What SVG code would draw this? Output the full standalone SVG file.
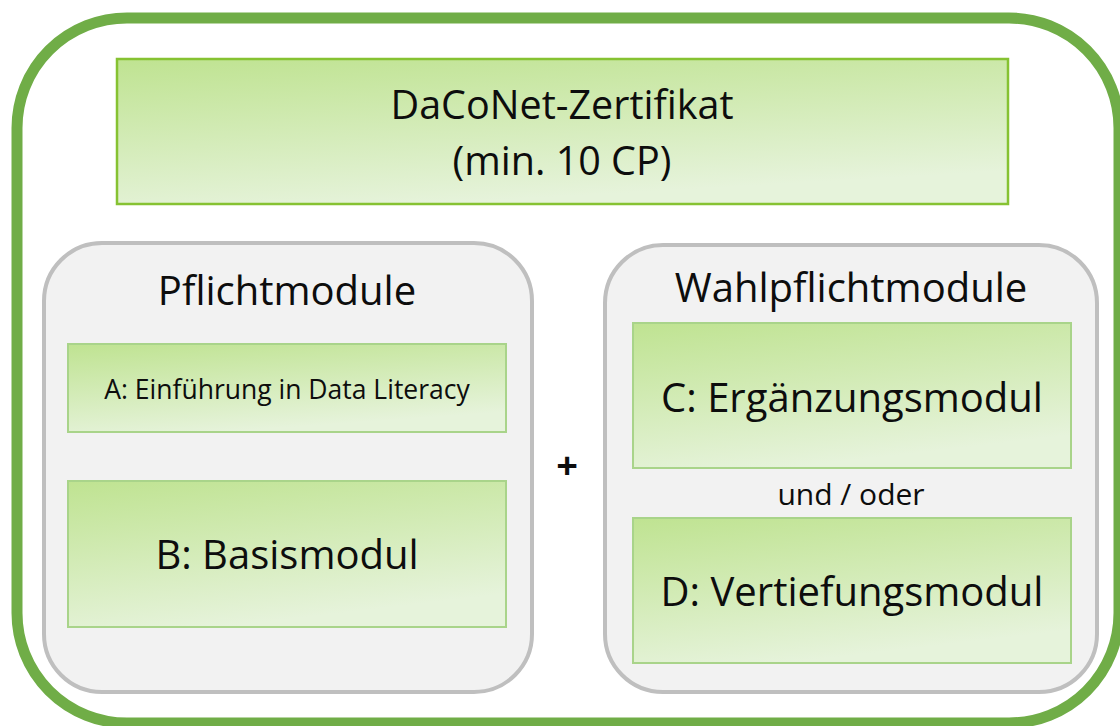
<svg xmlns="http://www.w3.org/2000/svg" width="1120" height="726" viewBox="0 0 1120 726">
<defs>
<linearGradient id="g" x1="0" y1="0" x2="0.35" y2="1">
<stop offset="0" stop-color="#bfe391"/>
<stop offset="1" stop-color="#e6f3db"/>
</linearGradient>
<style>
text{font-family:"Open Sans","Liberation Sans",sans-serif;fill:#0d0d0d;text-anchor:middle}
.outer{fill:#ffffff;stroke:#70ad47;stroke-width:11}
.panel{fill:#f2f2f2;stroke:#bfbfbf;stroke-width:4}
.top{fill:url(#g);stroke:#86c232;stroke-width:2.5}
.mod{fill:url(#g);stroke:#a9d48a;stroke-width:2}
.big{font-size:39.5px}
.h{font-size:40px}
.m{font-size:40px}
.s{font-size:26.5px}
.u{font-size:30px}
</style>
</defs>
<rect width="1120" height="726" fill="#ffffff"/>
<g id="frame"><rect class="outer" x="17" y="18" width="1102" height="705" rx="110"/></g>
<g id="zertifikat">
<rect class="top" x="117" y="59" width="891" height="145"/>
<text class="big" x="562" y="119">DaCoNet-Zertifikat</text>
<text class="big" x="562" y="175">(min. 10 CP)</text>
</g>
<g id="pflicht">
<rect class="panel" x="44" y="243" width="488" height="449" rx="58"/>
<text class="h" x="287" y="305">Pflichtmodule</text>
</g>
<g id="modA">
<rect class="mod" x="68" y="344" width="438" height="88"/>
<text class="s" x="287" y="399">A: Einführung in Data Literacy</text>
</g>
<g id="modB">
<rect class="mod" x="68" y="481" width="438" height="146"/>
<text class="m" x="287" y="569">B: Basismodul</text>
</g>
<g id="plus"><text x="567" y="479" style="font-size:38px;font-weight:bold">+</text></g>
<g id="wahl">
<rect class="panel" x="605" y="245" width="492" height="447" rx="58"/>
<text class="h" x="851" y="302">Wahlpflichtmodule</text>
</g>
<g id="modC">
<rect class="mod" x="633" y="323" width="438" height="145"/>
<text class="m" x="852" y="412">C: Ergänzungsmodul</text>
</g>
<g id="und"><text class="u" x="851" y="505">und / oder</text></g>
<g id="modD">
<rect class="mod" x="633" y="518" width="438" height="145"/>
<text class="m" x="852" y="606">D: Vertiefungsmodul</text>
</g>
<g id="connectors"></g>
</svg>
